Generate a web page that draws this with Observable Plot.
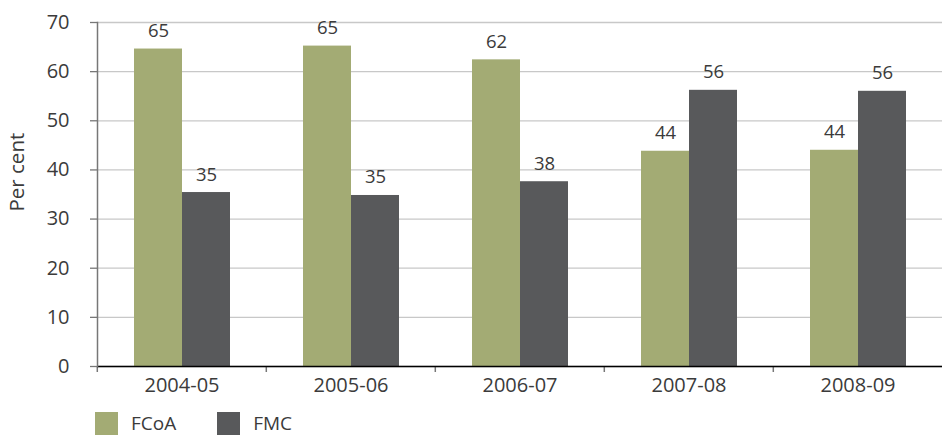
<!DOCTYPE html>
<html>
<head>
<meta charset="utf-8">
<script src="https://cdn.jsdelivr.net/npm/d3@7"></script>
<script src="https://cdn.jsdelivr.net/npm/@observablehq/plot@0.6"></script>
<style>
  body { margin: 0; background: #fff; }
  #chart { position: relative; width: 943px; height: 440px; font-family: "Open Sans", sans-serif; color: #3b3b3b; }
  #chart svg { position: absolute; left: 0; top: 0; }
  .legend { position: absolute; left: 95px; top: 412px; display: flex; align-items: center; font-size: 19px; line-height: 23px; }
  .legend .item { display: flex; align-items: center; margin-right: 41px; }
  .legend .swatch { width: 23px; height: 23px; margin-right: 13px; }
</style>
</head>
<body>
<div id="chart"></div>
<script>
// Share of cases by court, per financial year (per cent)
const years = ["2004-05", "2005-06", "2006-07", "2007-08", "2008-09"];
const courts = ["FCoA", "FMC"];
const fcoaShare = [64.6, 65.2, 62.4, 43.8, 44.0];
const fmcShare = [35.4, 34.8, 37.6, 56.2, 56.0];
const yTicks = [0, 10, 20, 30, 40, 50, 60, 70];
const courtColors = ["#a3ab74", "#58595b"];

const rows = years.flatMap((year, i) => [
  {year, court: courts[0], value: fcoaShare[i]},
  {year, court: courts[1], value: fmcShare[i]}
]);

const width = 943;
const marginLeft = 96;
const marginRight = 0;
const halfBand = (width - marginLeft - marginRight) / years.length / 2;
const textColor = "#3b3b3b";

const chart = Plot.plot({
  width,
  height: 400,
  marginTop: 22,
  marginBottom: 34,
  marginLeft,
  marginRight,
  style: {fontFamily: "Open Sans, sans-serif", color: textColor, background: "transparent"},
  fx: {domain: years, padding: 0, label: null},
  x: {domain: courts, paddingInner: 0, paddingOuter: 0.735, axis: null},
  y: {domain: [0, 70], label: null},
  color: {domain: courts, range: courtColors},
  marks: [
    Plot.gridY(yTicks, {stroke: "#c8c8c8", strokeOpacity: 1, strokeWidth: 1.3}),
    // y tick marks, then the tick labels set further out
    Plot.axisY(yTicks, {tickSize: 7, tickFormat: () => "", stroke: "#777", strokeWidth: 1.3, label: null}),
    Plot.axisY(yTicks, {tickSize: 0, dx: -19, fontSize: 20, fill: textColor, label: null}),
    Plot.axisFx({anchor: "bottom", tickSize: 0, tickPadding: 11, fontSize: 20, fill: textColor, label: null}),
    // small separators between the year groups
    Plot.axisFx({anchor: "bottom", tickSize: 6, tickFormat: () => "", dx: -halfBand, stroke: "#777", strokeWidth: 1.5, label: null}),
    Plot.barY(rows, {fx: "year", x: "court", y: "value", fill: "court"}),
    Plot.text(rows, {
      fx: "year", x: "court", y: "value",
      text: (d) => d3.format(".0f")(d.value),
      lineAnchor: "bottom", dy: -12, fontSize: 18.5, fill: textColor
    }),
    Plot.ruleY([0], {stroke: "#000", strokeWidth: 1.5}),
    Plot.frame({anchor: "left", facet: "super", stroke: "#777", strokeWidth: 1.5}),
    Plot.text(["Per cent"], {
      facet: "super", frameAnchor: "left", rotate: -90,
      dx: -80, dy: 17, fontSize: 20.5, fill: textColor
    })
  ]
});

const root = document.getElementById("chart");
root.appendChild(chart);

const legend = document.createElement("div");
legend.className = "legend";
courts.forEach((c, i) => {
  const item = document.createElement("div");
  item.className = "item";
  const sw = document.createElement("span");
  sw.className = "swatch";
  sw.style.background = courtColors[i];
  const label = document.createElement("span");
  label.textContent = c;
  item.append(sw, label);
  legend.appendChild(item);
});
root.appendChild(legend);
</script>
</body>
</html>
